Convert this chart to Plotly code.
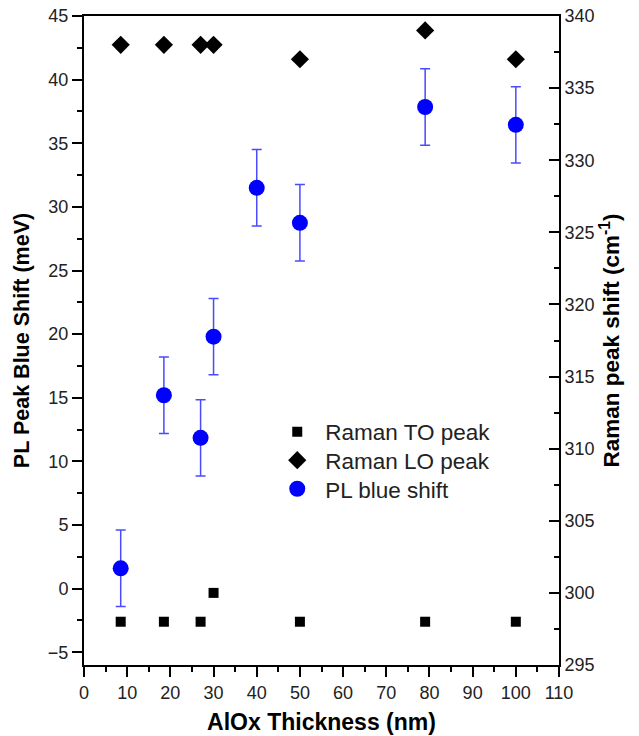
import plotly.graph_objects as go

thickness_raman = [8.5, 18.5, 27, 30, 50, 79, 100]
raman_to = [298, 298, 298, 300, 298, 298, 298]
raman_lo = [338, 338, 338, 338, 337, 339, 337]

thickness_pl = [8.5, 18.5, 27, 30, 40, 50, 79, 100]
pl_shift = [1.6, 15.2, 11.85, 19.8, 31.5, 28.75, 37.85, 36.45]
pl_err = [3, 3, 3, 3, 3, 3, 3, 3]

FONT = "Liberation Sans, Arial, sans-serif"

fig = go.Figure()
fig.add_trace(go.Scatter(
    x=thickness_raman, y=raman_to, mode="markers", name="Raman TO peak",
    marker=dict(symbol="square", size=10, color="black"), yaxis="y2", legend="legend"))
fig.add_trace(go.Scatter(
    x=thickness_raman, y=raman_lo, mode="markers", name="Raman LO peak",
    marker=dict(symbol="diamond", size=14, color="black"), yaxis="y2", legend="legend2"))
fig.add_trace(go.Scatter(
    x=thickness_pl, y=pl_shift, mode="markers", name="PL blue shift",
    marker=dict(symbol="circle", size=16, color="#0000ff"),
    error_y=dict(type="data", array=pl_err, visible=True, color="#4a4aff",
                 thickness=1.5, width=5), legend="legend3"))

axis_common = dict(showline=True, linecolor="black", linewidth=2,
                   tickcolor="black", tickwidth=1.5, ticklen=10,
                   showgrid=False, zeroline=False, automargin=False,
                   tickfont=dict(family=FONT, size=18, color="#222"))

leg_common = dict(x=0.39, xanchor="left", yanchor="middle", itemwidth=46,
                  font=dict(family=FONT, size=22.5, color="#222"),
                  bgcolor="rgba(0,0,0,0)")

fig.update_layout(
    width=639, height=736,
    margin=dict(l=84, r=80, t=16, b=71, autoexpand=False),
    paper_bgcolor="white", plot_bgcolor="white",
    font=dict(family=FONT, color="black"),
    xaxis=dict(range=[0, 110], dtick=10, tick0=0, ticks="outside", mirror=True,
               minor=dict(dtick=5, ticks="outside", ticklen=5, tickcolor="black", tickwidth=1.5),
               title=dict(text="<b>AlOx Thickness (nm)</b>", font=dict(family=FONT, size=23), standoff=12),
               **axis_common),
    yaxis=dict(range=[-6, 45], dtick=5, tick0=0, ticks="outside",
               minor=dict(dtick=2.5, ticks="outside", ticklen=5, tickcolor="black", tickwidth=1.5),
               title=dict(text="<b>PL Peak Blue Shift (meV)</b>", font=dict(family=FONT, size=21.5), standoff=12),
               **axis_common),
    yaxis2=dict(range=[295, 340], dtick=5, tick0=295, ticks="inside", overlaying="y", side="right",
                minor=dict(dtick=2.5, ticks="inside", ticklen=5, tickcolor="black", tickwidth=1.5),
                title=dict(text="<b>Raman peak shift (cm<sup>-1</sup>)</b>", font=dict(family=FONT, size=22.5), standoff=10),
                **axis_common),
    legend=dict(y=0.359, **leg_common),
    legend2=dict(y=0.315, **leg_common),
    legend3=dict(y=0.271, **leg_common),
    showlegend=True,
)

fig.write_html("out.html")
